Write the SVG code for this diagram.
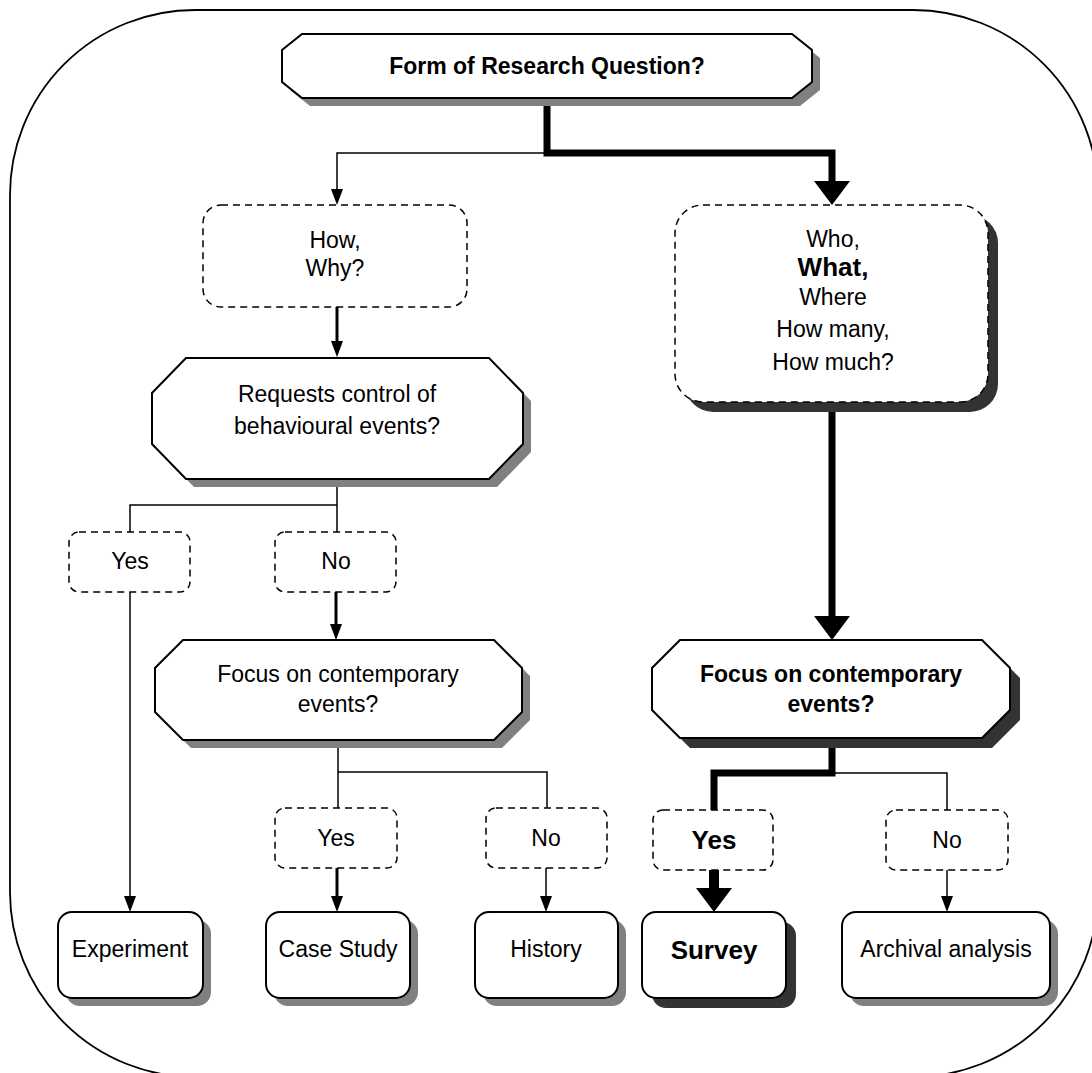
<svg xmlns="http://www.w3.org/2000/svg" width="1092" height="1073" viewBox="0 0 1092 1073">
  <style>
    .t { font-family: "Liberation Sans", Arial, sans-serif; font-size: 23px; text-anchor: middle; fill: #000; }
    .b { font-weight: bold; }
    .big { font-size: 26px; }
    .box { fill: #fff; stroke: #000; stroke-width: 2; }
    .dash { fill: #fff; stroke: #000; stroke-width: 1.5; stroke-dasharray: 7 5; }
    .sh { fill: #808080; }
    .shd { fill: #333; }
    .thin { fill: none; stroke: #000; stroke-width: 1.5; }
    .mid { fill: none; stroke: #000; stroke-width: 3; }
    .thick { fill: none; stroke: #000; stroke-width: 7; }
    .heavy { fill: none; stroke: #000; stroke-width: 10; }
  </style>
  <defs>
    <marker id="arr" markerUnits="userSpaceOnUse" markerWidth="16" markerHeight="12" refX="0" refY="6" orient="auto" overflow="visible">
      <path d="M0,0 L16,6 L0,12 Z" fill="#000"/>
    </marker>
    <marker id="arrBig" markerUnits="userSpaceOnUse" markerWidth="24" markerHeight="36" refX="0" refY="18" orient="auto" overflow="visible">
      <path d="M0,0 L24,18 L0,36 Z" fill="#000"/>
    </marker>
  </defs>

  <rect x="0" y="0" width="1092" height="1073" fill="#fff"/>
  <!-- outer frame -->
  <rect x="10" y="10" width="1088" height="1067" rx="185" ry="185" fill="none" stroke="#000" stroke-width="1.8"/>

  <!-- connectors -->
  <g id="connectors">
    <path class="thick" d="M547,98 V153 H832 V181" marker-end="url(#arrBig)"/>
    <path class="thin" d="M547,153 H337 V189" marker-end="url(#arr)"/>
    <path class="mid" d="M337,307 V341" marker-end="url(#arr)"/>
    <path class="thin" d="M337,479 V505 H130 V532 M337,505 V532"/>
    <path class="thin" d="M130,592 V896" marker-end="url(#arr)"/>
    <path class="mid" d="M336,592 V624" marker-end="url(#arr)"/>
    <path class="thin" d="M338,740 V772 H547 V808 M338,772 V808"/>
    <path class="mid" d="M337,868 V896" marker-end="url(#arr)"/>
    <path class="thin" d="M546,868 V896" marker-end="url(#arr)"/>
    <path class="thick" d="M832,402 V616" marker-end="url(#arrBig)"/>
    <path class="thin" d="M832,773 H947 V810"/>
    <path class="thick" d="M832,738 V773 H714 V810"/>
    <path class="heavy" d="M714,870 V888" marker-end="url(#arrBig)"/>
    <path class="thin" d="M947,870 V896" marker-end="url(#arr)"/>
  </g>

  <!-- top question -->
  <g id="node-form">
    <polygon class="sh" transform="translate(8,8)" points="302,34 792,34 812,50 812,82 792,98 302,98 282,82 282,50"/>
    <polygon class="box" points="302,34 792,34 812,50 812,82 792,98 302,98 282,82 282,50"/>
    <text class="t b" x="547" y="74">Form of Research Question?</text>
  </g>

  <g id="node-howwhy">
    <rect class="dash" x="203" y="205" width="264" height="102" rx="18"/>
    <text class="t" x="335" y="248">How,</text>
    <text class="t" x="335" y="276">Why?</text>
  </g>

  <g id="node-who">
    <rect class="shd" x="685" y="215" width="313" height="197" rx="28"/>
    <rect class="dash" x="675" y="205" width="313" height="197" rx="28"/>
    <text class="t" x="833" y="247">Who,</text>
    <text class="t b big" x="833" y="276">What,</text>
    <text class="t" x="833" y="305">Where</text>
    <text class="t" x="833" y="337">How many,</text>
    <text class="t" x="833" y="370">How much?</text>
  </g>

  <g id="node-control">
    <polygon class="sh" transform="translate(8,8)" points="186,358 489,358 523,393 523,444 489,479 186,479 152,444 152,393"/>
    <polygon class="box" points="186,358 489,358 523,393 523,444 489,479 186,479 152,444 152,393"/>
    <text class="t" x="337" y="402">Requests control of</text>
    <text class="t" x="337" y="434">behavioural events?</text>
  </g>

  <g id="node-yes1">
    <rect class="dash" x="69" y="532" width="121" height="60" rx="10"/>
    <text class="t" x="130" y="569">Yes</text>
  </g>
  <g id="node-no1">
    <rect class="dash" x="275" y="532" width="121" height="60" rx="10"/>
    <text class="t" x="336" y="569">No</text>
  </g>

  <g id="node-focus-left">
    <polygon class="sh" transform="translate(8,8)" points="183,640 494,640 522,668 522,712 494,740 183,740 155,712 155,668"/>
    <polygon class="box" points="183,640 494,640 522,668 522,712 494,740 183,740 155,712 155,668"/>
    <text class="t" x="338" y="682">Focus on contemporary</text>
    <text class="t" x="338" y="712">events?</text>
  </g>

  <g id="node-focus-right">
    <polygon class="shd" transform="translate(10,10)" points="680,640 982,640 1010,668 1010,710 982,738 680,738 652,710 652,668"/>
    <polygon class="box" points="680,640 982,640 1010,668 1010,710 982,738 680,738 652,710 652,668"/>
    <text class="t b" x="831" y="682">Focus on contemporary</text>
    <text class="t b" x="831" y="712">events?</text>
  </g>

  <g id="node-yes2">
    <rect class="dash" x="275" y="808" width="122" height="60" rx="10"/>
    <text class="t" x="336" y="846">Yes</text>
  </g>
  <g id="node-no2">
    <rect class="dash" x="486" y="808" width="121" height="60" rx="10"/>
    <text class="t" x="546" y="846">No</text>
  </g>
  <g id="node-yes3">
    <rect class="dash" x="653" y="810" width="120" height="60" rx="10"/>
    <text class="t b big" x="714" y="849">Yes</text>
  </g>
  <g id="node-no3">
    <rect class="dash" x="886" y="810" width="122" height="60" rx="10"/>
    <text class="t" x="947" y="848">No</text>
  </g>

  <g id="node-experiment">
    <rect class="sh" x="66" y="920" width="145" height="86" rx="14"/>
    <rect class="box" x="58" y="912" width="145" height="86" rx="14"/>
    <text class="t" x="130" y="957">Experiment</text>
  </g>
  <g id="node-casestudy">
    <rect class="sh" x="274" y="920" width="144" height="86" rx="14"/>
    <rect class="box" x="266" y="912" width="144" height="86" rx="14"/>
    <text class="t" x="338" y="957">Case Study</text>
  </g>
  <g id="node-history">
    <rect class="sh" x="483" y="920" width="143" height="86" rx="14"/>
    <rect class="box" x="475" y="912" width="143" height="86" rx="14"/>
    <text class="t" x="546" y="957">History</text>
  </g>
  <g id="node-survey">
    <rect class="shd" x="652" y="922" width="144" height="86" rx="14"/>
    <rect class="box" x="642" y="912" width="144" height="86" rx="14"/>
    <text class="t b big" x="714" y="959">Survey</text>
  </g>
  <g id="node-archival">
    <rect class="sh" x="850" y="920" width="208" height="86" rx="14"/>
    <rect class="box" x="842" y="912" width="208" height="86" rx="14"/>
    <text class="t" x="946" y="957">Archival analysis</text>
  </g>
</svg>
